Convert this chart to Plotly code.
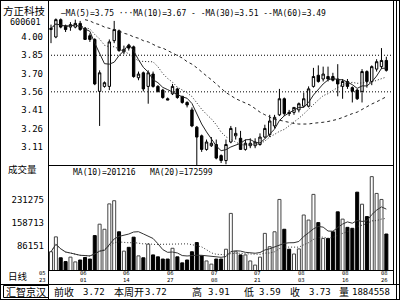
import plotly.graph_objects as go
import pandas as pd

# ---------------- data ----------------
opens  = [4.06,4.00,4.14,4.09,4.08,4.08,4.11,4.07,4.01,3.98,
          3.56,3.60,3.60,3.97,4.05,3.88,3.93,3.92,3.67,3.71,
          3.60,3.70,3.60,3.57,3.50,3.54,3.58,3.52,3.47,3.41,
          3.27,3.20,3.09,3.12,3.13,3.04,3.00,3.15,3.20,3.18,
          3.09,3.12,3.12,3.13,3.19,3.21,3.28,3.37,3.50,3.39,
          3.39,3.41,3.44,3.44,3.60,3.69,3.66,3.68,3.68,3.66,
          3.60,3.64,3.59,3.57,3.56,3.72,3.64,3.74,3.76,3.81]
highs  = [4.10,4.15,4.15,4.10,4.12,4.14,4.13,4.08,4.03,3.99,
          3.73,3.64,3.98,4.13,4.06,3.93,3.94,3.93,3.72,3.72,
          3.73,3.72,3.61,3.58,3.51,3.62,3.59,3.52,3.48,3.43,
          3.28,3.21,3.17,3.19,3.17,3.05,3.17,3.28,3.27,3.24,
          3.17,3.18,3.18,3.22,3.29,3.37,3.37,3.58,3.51,3.41,
          3.43,3.47,3.55,3.60,3.75,3.77,3.76,3.76,3.71,3.78,
          3.66,3.66,3.60,3.58,3.74,3.73,3.77,3.82,3.91,3.84]
lows   = [3.95,3.99,4.07,4.04,4.05,4.07,4.05,3.98,3.96,3.61,
          3.28,3.59,3.57,3.95,3.88,3.86,3.89,3.67,3.65,3.56,
          3.46,3.59,3.55,3.50,3.49,3.53,3.50,3.46,3.43,3.27,
          2.96,3.07,3.08,3.11,3.01,2.98,2.97,3.14,3.17,3.09,
          3.08,3.10,3.10,3.12,3.18,3.19,3.26,3.36,3.36,3.36,
          3.37,3.39,3.43,3.43,3.59,3.63,3.64,3.64,3.64,3.52,
          3.50,3.58,3.47,3.49,3.47,3.59,3.61,3.72,3.74,3.72]
closes = [4.07,4.14,4.08,4.06,4.10,4.11,4.06,3.98,3.98,3.62,
          3.71,3.63,3.96,4.06,3.89,3.90,3.91,3.68,3.70,3.58,
          3.71,3.60,3.56,3.51,3.49,3.60,3.51,3.47,3.45,3.28,
          3.19,3.09,3.15,3.14,3.02,3.00,3.13,3.26,3.22,3.09,
          3.14,3.14,3.15,3.19,3.26,3.32,3.35,3.50,3.38,3.38,
          3.43,3.46,3.50,3.58,3.68,3.64,3.70,3.66,3.65,3.62,
          3.64,3.60,3.56,3.50,3.72,3.64,3.76,3.80,3.81,3.73]
volumes = [68000,115000,49000,37000,51000,36000,42000,50000,45000,119000,
           155000,139000,219000,229000,131000,70000,82000,114000,55000,49000,
           92000,58000,52000,45000,45000,79000,52000,33000,42000,68000,
           97000,55000,39000,29000,45000,45000,76000,189000,68000,58000,
           58000,39000,26000,51000,126000,84000,131000,233000,139000,76000,
           61000,77000,184000,168000,249000,160000,110000,110000,131000,194000,
           171000,145000,142000,256000,218000,179000,305000,252000,233000,124000]
ma30_early = [4.14,4.13,4.11,4.10,4.08,4.07,4.06,4.05,4.03,4.02,4.00,
              3.99,3.97,3.96,3.94,3.92,3.91,3.89,3.87,3.85,3.83,3.80]
ma30_early_start = 7

date_idx = [0, 7, 16, 25, 34, 43, 52, 61, 69]
date_month = ["05","06","06","06","07","07","08","08","08"]
date_day   = ["23","01","14","27","08","21","03","16","26"]

price_ticks = [4.000, 3.852, 3.704, 3.556, 3.408, 3.260, 3.112]
ref_levels = [3.852, 3.556]
vol_ticks = [231275, 158713, 86151]

stock_name = "方正科技"
stock_code = "600601"
price_legend = "—MA(5)=3.75 ···MA(10)=3.67 - -MA(30)=3.51 --MA(60)=3.49"
vol_legend = "MA(10)=201216   MA(20)=172599"
bottom_labels = ["前收", "本周开", "高", "低", "收", "量"]
bottom_values = ["3.72", "3.72", "3.91", "3.59", "3.73", "1884558"]

# ---------------- derived ----------------
n = len(closes)
idx = list(range(n))
cs = pd.Series(closes)
vs = pd.Series(volumes)
ma5 = cs.rolling(5, min_periods=1).mean().tolist()
ma10 = cs.rolling(10, min_periods=1).mean().tolist()
ma30_full = cs.rolling(30).mean().tolist()
ma30 = [None] * n
for k, v in enumerate(ma30_early):
    ma30[ma30_early_start + k] = v
for i in range(n):
    if ma30_full[i] == ma30_full[i]:
        ma30[i] = ma30_full[i]
vma10 = vs.rolling(10, min_periods=1).mean().tolist()
vma20 = vs.rolling(20, min_periods=1).mean().tolist()
up = [c >= o for o, c in zip(opens, closes)]

W, H = 400, 300
def px(x): return x / W
def py(y): return 1 - y / H

NUM = "DejaVu Sans Mono"
CJK = "Noto Sans CJK SC"

fig = go.Figure()
fig.add_trace(go.Candlestick(
    x=idx, open=opens, high=highs, low=lows, close=closes,
    increasing=dict(line=dict(color="black", width=1), fillcolor="white"),
    decreasing=dict(line=dict(color="black", width=1), fillcolor="black"),
    whiskerwidth=0, xaxis="x", yaxis="y", showlegend=False))
fig.add_trace(go.Scatter(x=idx, y=ma5, mode="lines", line=dict(color="#222", width=1),
                         xaxis="x", yaxis="y", showlegend=False))
fig.add_trace(go.Scatter(x=idx, y=ma10, mode="lines", line=dict(color="#222", width=1, dash="1px,2px"),
                         xaxis="x", yaxis="y", showlegend=False))
fig.add_trace(go.Scatter(x=idx, y=ma30, mode="lines", line=dict(color="#222", width=1, dash="3px,3px"),
                         xaxis="x", yaxis="y", showlegend=False))

fig.add_trace(go.Bar(
    x=idx, y=volumes, width=0.62,
    marker=dict(color=["white" if u else "black" for u in up],
                line=dict(color=["#444" if u else "black" for u in up], width=1)),
    xaxis="x", yaxis="y2", showlegend=False))
fig.add_trace(go.Scatter(x=idx, y=vma10, mode="lines", line=dict(color="#333", width=1),
                         xaxis="x", yaxis="y2", showlegend=False))
fig.add_trace(go.Scatter(x=idx, y=vma20, mode="lines", line=dict(color="#333", width=1, dash="1px,2px"),
                         xaxis="x", yaxis="y2", showlegend=False))

shapes = []
for lv in ref_levels:
    shapes.append(dict(type="line", xref="paper", yref="y", x0=px(48), x1=px(393), y0=lv, y1=lv,
                       line=dict(color="black", width=1, dash="1px,2px")))
def hline(y, x0, x1):
    shapes.append(dict(type="line", xref="paper", yref="paper", x0=px(x0), x1=px(x1),
                       y0=py(y), y1=py(y), line=dict(color="black", width=1)))
def vline(x, y0, y1):
    shapes.append(dict(type="line", xref="paper", yref="paper", x0=px(x), x1=px(x),
                       y0=py(y0), y1=py(y1), line=dict(color="black", width=1)))
hline(0.5, 0, 400)
hline(299.5, 0, 400)
vline(0.5, 0, 300)
vline(399.5, 0, 300)
vline(396.5, 0, 300)
vline(393.5, 0, 284)
vline(48.5, 0, 300)
hline(165.5, 48, 394)
hline(270.5, 48, 394)
hline(284.5, 0, 400)
shapes.append(dict(type="rect", xref="paper", yref="paper", x0=px(3.5), x1=px(48.5),
                   y0=py(297.5), y1=py(285.5), line=dict(color="black", width=1)))

ann = []
def text(s, x, y, xa="left", size=9, fam=NUM):
    ann.append(dict(text=s, x=px(x), y=py(y), xref="paper", yref="paper", xanchor=xa,
                    yanchor="middle", showarrow=False, font=dict(family=fam, size=size, color="black")))
text(stock_name, 24, 11, "center", 10.5, CJK)
text(stock_code, 43, 22.5, "right", 8.5)
text(price_legend, 59, 13.5, "left", 8)
text("成交量", 6, 169.5, "left", 9.5, CJK)
text(vol_legend, 71, 172.5, "left", 8)
text("日线", 6, 275.5, "left", 9.5, CJK)
text("汇智京汉", 26, 291.5, "center", 10, CJK)
lab_x = [52, 112, 190, 242, 288, 337]
val_x = [107, 169, 232, 283, 333, 392]
for s, x in zip(bottom_labels, lab_x):
    text(s, x, 291.5, "left", 10, CJK)
for s, x in zip(bottom_values, val_x):
    text(s, x, 291.5, "right", 9)
for k, (i, m, d) in enumerate(zip(date_idx, date_month, date_day)):
    sh = -9 if k == 0 else -2
    ann.append(dict(text=f"{m}<br>{d}", x=i, y=py(276.5), xref="x", yref="paper", xanchor="center",
                    yanchor="middle", xshift=sh, showarrow=False, align="center",
                    font=dict(family=NUM, size=5.5, color="black")))

fig.update_layout(
    width=W, height=H, margin=dict(l=0, r=0, t=0, b=0),
    paper_bgcolor="white", plot_bgcolor="white", showlegend=False,
    xaxis=dict(domain=[px(48), px(393)], range=[-0.62, 70.37], showticklabels=False,
               showgrid=False, zeroline=False, showline=False, ticks="",
               rangeslider=dict(visible=False), anchor="y2", fixedrange=True),
    yaxis=dict(domain=[py(165), py(2)], range=[2.964, 4.283], tickvals=price_ticks,
               ticktext=[f"{v:.2f}" for v in price_ticks], showgrid=False, zeroline=False,
               showline=False, ticks="", anchor="x", ticklabelstandoff=4,
               tickfont=dict(family=NUM, size=9, color="black")),
    yaxis2=dict(domain=[py(270), py(165)], range=[10434, 341700], tickvals=vol_ticks,
                ticktext=[str(v) for v in vol_ticks], showgrid=False, zeroline=False,
                showline=False, ticks="", anchor="x", ticklabelstandoff=3,
                tickfont=dict(family=NUM, size=9, color="black")),
    shapes=shapes, annotations=ann, bargap=0.3,
)
fig.write_html("out.html")
